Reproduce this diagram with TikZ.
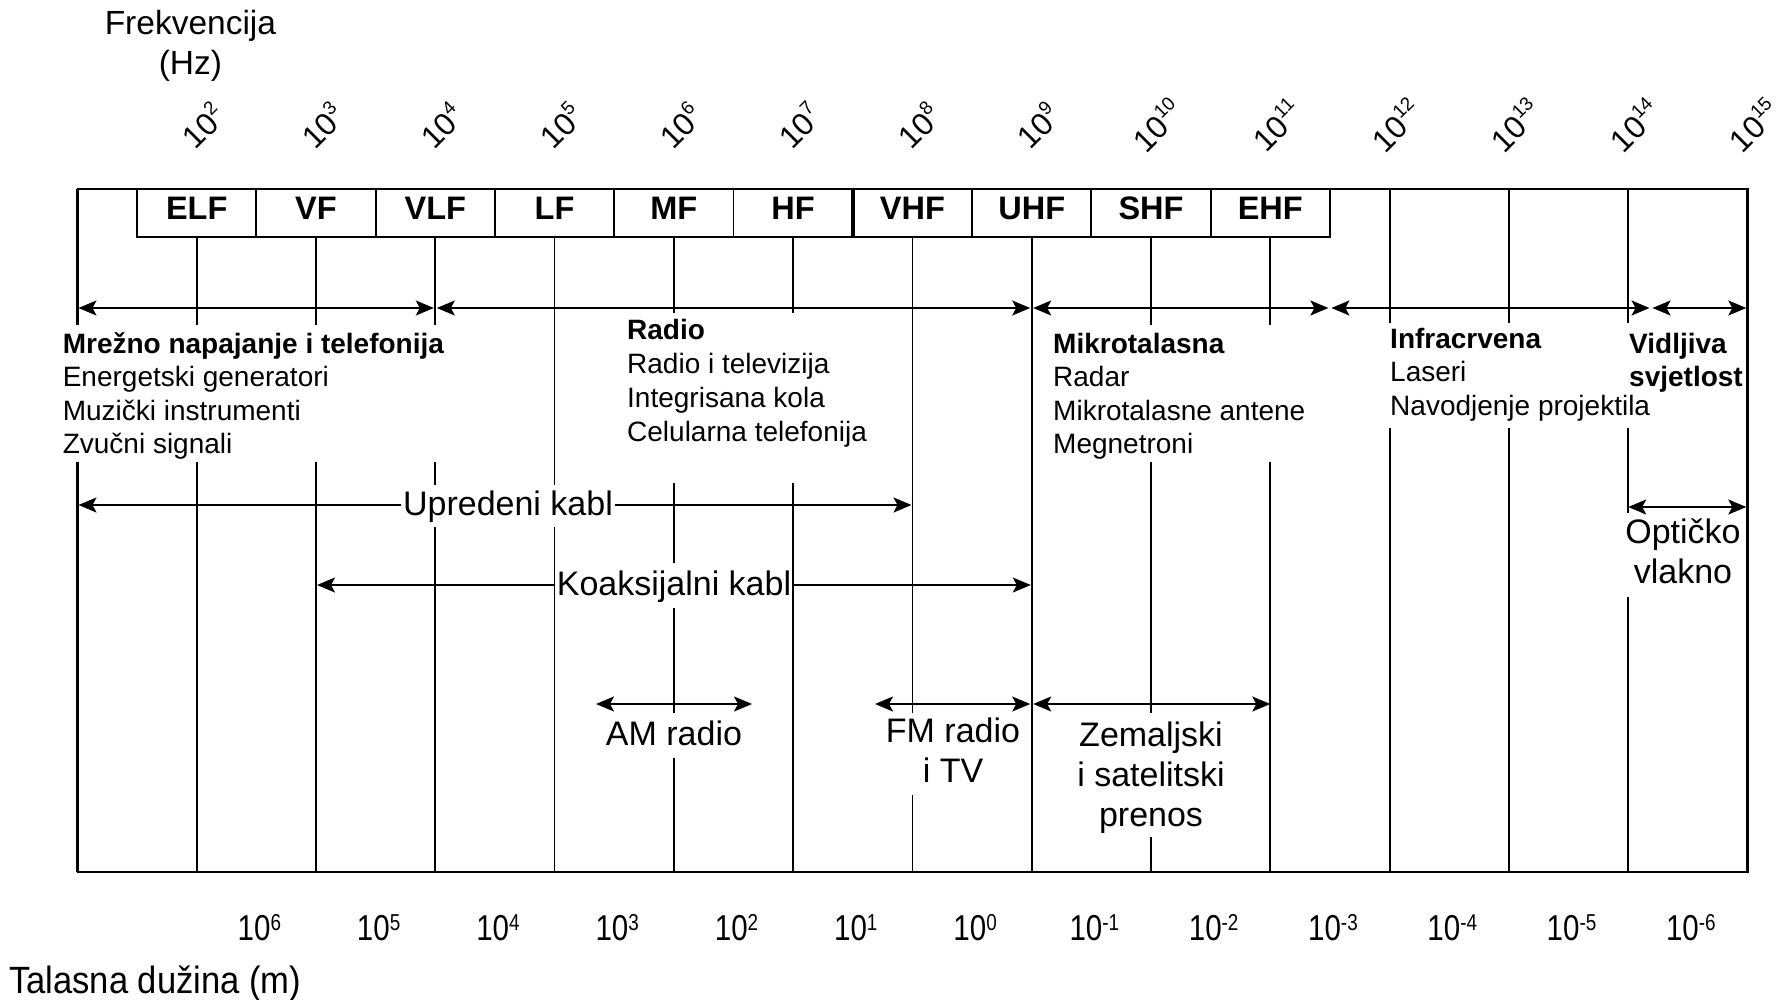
\documentclass[tikz,border=0pt]{standalone}
\usepackage{fontspec}
\setmainfont{Liberation Sans}
\usetikzlibrary{arrows.meta}
\newcommand\tpow[1]{10{\fontsize{19}{19}\selectfont\raisebox{13.5pt}{#1}}}
\newcommand\bpow[1]{\scalebox{0.82}[1]{10{\fontsize{23}{23}\selectfont\raisebox{10.7pt}{#1}}}}
\begin{document}
\begin{tikzpicture}[x=1pt,y=-1pt,
  ln/.style={line width=1.8pt},
  frame/.style={line width=2.2pt},
  >={Stealth[length=18pt,width=15pt,inset=4pt]},
  arr/.style={line width=1.8pt},
  sm/.style={font=\fontsize{28}{33}\selectfont, inner sep=0pt, anchor=base west},
  smb/.style={font=\fontsize{28}{33}\selectfont\bfseries, inner sep=0pt, anchor=base west},
  big/.style={font=\fontsize{34}{40}\selectfont, inner xsep=1.5pt, inner ysep=0pt, anchor=base},
  band/.style={font=\fontsize{32.5}{38}\selectfont\bfseries, inner sep=0pt, anchor=base},
  bandbox/.style={draw, line width=1.8pt},
  fq/.style={font=\fontsize{31.5}{36}\selectfont, inner sep=0pt, rotate=45, anchor=center},
  wl/.style={font=\fontsize{36}{40}\selectfont, inner sep=0pt, anchor=base},
  axl/.style={font=\fontsize{33.5}{40}\selectfont, inner sep=0pt, anchor=base},
]
\useasboundingbox (0,0) rectangle (1785,1000);
\foreach \k in {0,...,14} {
  \coordinate (T\k) at ({77.4+119.29*\k},189);
  \coordinate (B\k) at ({77.4+119.29*\k},872);
}
% grid lines with gaps
\foreach \k/\a/\b in {1/237/325, 1/462/872, 2/237/325, 2/462/872,
  3/237/325, 3/462/485, 3/527/872, 4/237/485, 4/527/872,
  5/237/313, 5/483/563, 5/608/713, 5/758/872, 6/237/313, 6/483/872,
  7/237/713, 7/795/872, 8/237/872, 9/237/325, 9/462/713, 9/837/872,
  10/237/325, 10/462/872, 11/189/323, 11/428/872, 12/189/323, 12/428/872,
  13/189/323, 13/428/513, 13/597/872}
  \draw[ln] ({77.4+119.29*\k},\a) -- ({77.4+119.29*\k},\b);
% frame
\draw[frame] (T0) -- (T14) -- (B14) -- (B0);
\draw[frame] (B0) -- (77.4,462);
\draw[frame] (T0) -- (77.4,325);
% bands
\foreach \n [count=\i] in {ELF,VF,VLF,LF,MF,HF,VHF,UHF,SHF,EHF} {
  \draw[bandbox] ({77.4+119.29*(\i-0.5)},189) rectangle ({77.4+119.29*(\i+0.5)},237);
  \node[band] (b\n) at ({77.4+119.29*\i},220) {\n};
}
\draw[line width=3.6pt] (852.8,189) -- (852.8,237);
% frequency labels
\foreach \k in {1,...,14} {
  \pgfmathtruncatemacro\e{\k+1}
  \node[fq] (f\k) at ({77.4+119.29*\k+6},125) {\tpow{\e}};
}
\node[axl] (fr) at (190.4,34.3) {Frekvencija};
\node[axl] (hz) at (190.4,75) {(Hz)};
% wavelength labels
\foreach \k in {1,...,13} {
  \pgfmathtruncatemacro\e{7-\k}
  \node[wl] (w\k) at ({77.4+119.29*(\k+0.5)+3},940.7) {\bpow{\e}};
}
\node[font=\fontsize{38}{40}\selectfont, inner sep=0pt, anchor=base west] (tl) at (9,993) {\scalebox{0.91}[1]{Talasna dužina (m)}};
% row 1 arrows
\coordinate (a0) at (78.5,308);
\coordinate (a1l) at (433.8,308);
\coordinate (a1r) at (436.8,308);
\coordinate (a2l) at (1030.2,308);
\coordinate (a2r) at (1033.2,308);
\coordinate (a3l) at (1328.4,308);
\coordinate (a3r) at (1331.4,308);
\coordinate (a4l) at (1649.5,308);
\coordinate (a4r) at (1652.5,308);
\coordinate (a5) at (1746.3,308);
\draw[arr,<->] (a0) -- (a1l);
\draw[arr,<->] (a1r) -- (a2l);
\draw[arr,<->] (a2r) -- (a3l);
\draw[arr,<->] (a3r) -- (a4l);
\draw[arr,<->] (a4r) -- (a5);
% text blocks
\node[smb] (m0) at (62.6,353) {Mrežno napajanje i telefonija};
\node[sm] (m1) at (62.6,386.5) {Energetski generatori};
\node[sm] (m2) at (62.6,420) {Muzički instrumenti};
\node[sm] (m3) at (62.6,453.5) {Zvučni signali};
\node[smb] (r0) at (627,339) {Radio};
\node[sm] (r1) at (627,373) {Radio i televizija};
\node[sm] (r2) at (627,407) {Integrisana kola};
\node[sm] (r3) at (627,441) {Celularna telefonija};
\node[smb] (k0) at (1053,353) {Mikrotalasna};
\node[sm] (k1) at (1053,386.5) {Radar};
\node[sm] (k2) at (1053,420) {Mikrotalasne antene};
\node[sm] (k3) at (1053,453.5) {Megnetroni};
\node[smb] (i0) at (1390,348) {Infracrvena};
\node[sm] (i1) at (1390,381.5) {Laseri};
\node[sm] (i2) at (1390,415) {Navodjenje projektila};
\node[smb] (v0) at (1629,353) {Vidljiva};
\node[smb] (v1) at (1629,386.5) {svjetlost};
% cables
\coordinate (uL) at (78.5,505);
\coordinate (uR) at (911.5,505);
\node[big] (up) at (508,515) {Upredeni kabl};
\draw[arr,->] (up.west |- uL) -- (uL);
\draw[arr,->] (up.east |- uR) -- (uR);
\coordinate (kL) at (317,585);
\coordinate (kR) at (1030.8,585);
\node[big] (ko) at (674,595) {Koaksijalni kabl};
\draw[arr,->] (ko.west |- kL) -- (kL);
\draw[arr,->] (ko.east |- kR) -- (kR);
% lower ranges
\coordinate (amL) at (596,704);
\coordinate (amR) at (752,704);
\draw[arr,<->] (amL) -- (amR);
\node[big] (am) at (674,745) {AM radio};
\coordinate (fmL) at (875,704);
\coordinate (fmR) at (1030.2,704);
\draw[arr,<->] (fmL) -- (fmR);
\node[big] (fm1) at (953,742) {FM radio};
\node[big] (fm2) at (953,782) {i TV};
\coordinate (zL) at (1033.2,704);
\coordinate (zR) at (1270.3,704);
\draw[arr,<->] (zL) -- (zR);
\node[big] (z1) at (1151,746) {Zemaljski};
\node[big] (z2) at (1151,786) {i satelitski};
\node[big] (z3) at (1151,826) {prenos};
\coordinate (oL) at (1628.2,507);
\coordinate (oR) at (1746.3,507);
\draw[arr,<->] (oL) -- (oR);
\node[big] (o1) at (1683,543) {Optičko};
\node[big] (o2) at (1683,583) {vlakno};
\end{tikzpicture}
\end{document}
